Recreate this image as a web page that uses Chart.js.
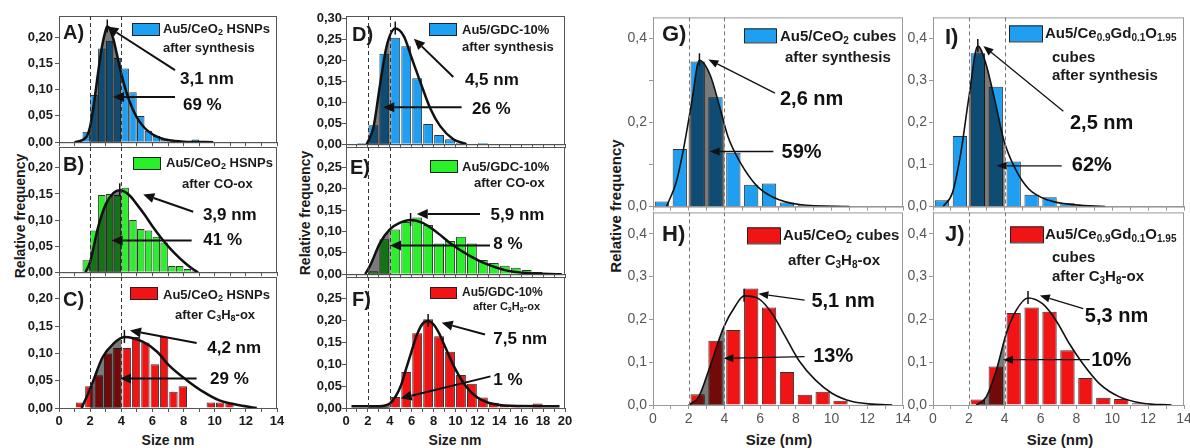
<!DOCTYPE html>
<html>
<head>
<meta charset="utf-8">
<script src="https://cdn.jsdelivr.net/npm/chart.js@4.4.1/dist/chart.umd.min.js"></script>
<style>
  body { margin: 0; width: 1190px; height: 448px; background: #fff; position: relative; overflow: hidden;
         font-family: "Liberation Sans", Arial, sans-serif; }
  canvas { position: absolute; }
  .ttl { position: absolute; font-weight: bold; color: #1a1a1a; white-space: nowrap; }
  .rot { transform: translate(-50%, -50%) rotate(-90deg); }
  .hor { transform: translate(-50%, -50%); }
</style>
</head>
<body>
<div class="ttl rot" style="left:20px;top:216px;font-size:14px">Relative frequency</div>
<div class="ttl rot" style="left:305px;top:213px;font-size:14px">Relative frequency</div>
<div class="ttl rot" style="left:615px;top:206px;font-size:15px">Relative frequency</div>
<div class="ttl hor" style="left:168px;top:440px;font-size:14px">Size nm</div>
<div class="ttl hor" style="left:455px;top:440px;font-size:14px">Size nm</div>
<div class="ttl hor" style="left:779px;top:439px;font-size:15px">Size (nm)</div>
<div class="ttl hor" style="left:1060px;top:439px;font-size:15px">Size (nm)</div>
<script>
// ---- size histograms (bin centre in nm, relative frequency) and log-normal fits ----
const aBins = [1.75, 2.25, 2.75, 3.25, 3.75, 4.25, 4.75, 5.25, 5.75, 6.25, 6.75, 7.25, 7.75, 8.25, 8.75];
const aFreq = [0.02, 0.09, 0.178, 0.193, 0.16, 0.14, 0.095, 0.05, 0.022, 0.012, 0.005, 0.002, 0, 0, 0.005];
const aFitX = [1.0, 1.5, 1.8, 2.0, 2.25, 2.5, 2.75, 3.0, 3.1, 3.25, 3.5, 3.75, 4.0, 4.5, 5.0, 5.5, 6.0, 6.5, 7.0, 8.0, 9.9];
const aFitY = [0, 0.004, 0.012, 0.03, 0.075, 0.13, 0.18, 0.213, 0.22, 0.216, 0.195, 0.163, 0.13, 0.08, 0.047, 0.027, 0.015, 0.008, 0.004, 0.001, 0];

const bBins = [1.75, 2.25, 2.75, 3.25, 3.75, 4.25, 4.75, 5.25, 5.75, 6.25, 6.75, 7.25, 7.75, 8.25, 8.75];
const bFreq = [0.023, 0.08, 0.148, 0.15, 0.148, 0.162, 0.10, 0.083, 0.08, 0.068, 0.057, 0.012, 0.012, 0.006, 0.003];
const bFitX = [1.7, 2.0, 2.2, 2.5, 3.0, 3.5, 3.9, 4.5, 5.0, 5.5, 6.0, 6.5, 7.0, 7.5, 8.0, 8.5, 8.9];
const bFitY = [0, 0.02, 0.045, 0.085, 0.13, 0.152, 0.157, 0.148, 0.13, 0.11, 0.088, 0.068, 0.05, 0.034, 0.02, 0.008, 0];

const cBins = [1.35, 1.95, 2.55, 3.15, 3.75, 4.35, 4.95, 5.55, 6.15, 6.75, 7.35, 7.95, 8.55, 9.15, 9.75, 10.35, 10.95];
const cFreq = [0.01, 0.04, 0.06, 0.10, 0.11, 0.11, 0.13, 0.12, 0.08, 0.13, 0.03, 0.04, 0, 0, 0.01, 0.01, 0.01];
const cFitX = [1.45, 2.0, 2.2, 2.8, 3.5, 4.2, 5.4, 6.3, 7.1, 8.2, 9.3, 10.3, 11.6, 12.7];
const cFitY = [0, 0.035, 0.05, 0.093, 0.118, 0.13, 0.121, 0.103, 0.077, 0.051, 0.029, 0.014, 0.005, 0];

const dBins = [1.5, 2.5, 3.5, 4.5, 5.5, 6.5, 7.5, 8.5, 9.5, 10.5, 11.5, 12.5];
const dFreq = [0.003, 0.045, 0.215, 0.253, 0.233, 0.157, 0.048, 0.022, 0.012, 0.003, 0, 0.003];
const dFitX = [1.9, 2.5, 3.1, 3.7, 4.5, 5.3, 6.0, 6.8, 7.7, 8.6, 9.8, 11.0];
const dFitY = [0, 0.039, 0.14, 0.232, 0.275, 0.256, 0.205, 0.147, 0.085, 0.043, 0.012, 0];

const eBins = [2.5, 3.5, 4.5, 5.5, 6.5, 7.5, 8.5, 9.5, 10.5, 11.5, 12.5, 13.5, 14.5, 15.5, 16.5, 17.5, 18.5];
const eFreq = [0.007, 0.082, 0.105, 0.122, 0.133, 0.115, 0.072, 0.078, 0.088, 0.072, 0.033, 0.026, 0.02, 0.015, 0.01, 0.005, 0.003];
const eFitX = [1.76, 2.2, 3.1, 4.0, 4.9, 5.9, 7.0, 8.2, 9.7, 11.3, 12.8, 14.6, 16.4, 19.7];
const eFitY = [0, 0.02, 0.073, 0.105, 0.12, 0.127, 0.12, 0.10, 0.069, 0.043, 0.024, 0.009, 0.003, 0];

const fBins = [3.5, 4.5, 5.5, 6.5, 7.5, 8.5, 9.5, 10.5, 11.5, 12.5, 13.5, 14.5, 15.5, 16.5, 17.5];
const fFreq = [0.003, 0.025, 0.082, 0.17, 0.202, 0.163, 0.128, 0.075, 0.055, 0.024, 0.012, 0.005, 0.003, 0, 0.01];
const fFitX = [0.5, 3.0, 4.0, 4.5, 5.0, 5.5, 6.0, 6.5, 7.0, 7.5, 8.0, 8.5, 9.0, 10.0, 11.0, 12.0, 13.0, 14.0, 15.0, 19.5];
const fFitY = [0.004, 0.004, 0.01, 0.025, 0.05, 0.09, 0.13, 0.168, 0.192, 0.198, 0.19, 0.17, 0.142, 0.088, 0.048, 0.024, 0.012, 0.007, 0.005, 0.004];

const gBins = [0.5, 1.5, 2.5, 3.5, 4.5, 5.5, 6.5, 7.5, 8.5, 9.5, 10.5];
const gFreq = [0.012, 0.137, 0.345, 0.26, 0.128, 0.052, 0.055, 0.01, 0.004, 0.002, 0.002];
const gFitX = [0.75, 1.3, 1.7, 2.15, 2.6, 3.2, 3.75, 4.2, 4.9, 5.8, 6.7, 8.2, 11.0];
const gFitY = [0, 0.058, 0.135, 0.243, 0.348, 0.313, 0.235, 0.166, 0.104, 0.05, 0.023, 0.005, 0];

const hBins = [2.5, 3.5, 4.5, 5.5, 6.5, 7.5, 8.5, 9.5, 10.5, 11.5];
const hFreq = [0.025, 0.15, 0.175, 0.272, 0.228, 0.077, 0.024, 0.031, 0.01, 0.002];
const hFitX = [2.0, 2.56, 3.12, 3.96, 4.62, 5.1, 5.93, 6.68, 7.42, 8.17, 9.1, 10.04, 11.16, 12.3, 13.4];
const hFitY = [0, 0.019, 0.081, 0.182, 0.232, 0.255, 0.248, 0.213, 0.159, 0.104, 0.058, 0.027, 0.008, 0.002, 0];

const iBins = [0.5, 1.5, 2.5, 3.5, 4.5, 5.5, 6.5, 7.5, 8.5];
const iFreq = [0.015, 0.168, 0.365, 0.285, 0.107, 0.028, 0.022, 0.008, 0.003];
const iFitX = [0.56, 1.1, 1.55, 2.0, 2.5, 2.93, 3.5, 3.95, 4.6, 5.34, 6.46, 7.94, 9.6];
const iFitY = [0, 0.035, 0.127, 0.259, 0.382, 0.343, 0.243, 0.158, 0.089, 0.042, 0.015, 0.004, 0];

const jBins = [2.5, 3.5, 4.5, 5.5, 6.5, 7.5, 8.5, 9.5, 10.5, 11.5];
const jFreq = [0.013, 0.09, 0.215, 0.228, 0.218, 0.128, 0.063, 0.017, 0.014, 0.004];
const jFitX = [2.42, 2.97, 3.53, 4.08, 4.64, 5.3, 6.12, 6.87, 7.61, 8.35, 9.28, 10.4, 11.7, 13.3];
const jFitY = [0, 0.019, 0.081, 0.166, 0.221, 0.25, 0.236, 0.197, 0.143, 0.097, 0.05, 0.019, 0.004, 0];

// modal size (nm) and fraction of particles between 2 and 4 nm (%)
const peakSizes = [3.1, 3.9, 4.2, 4.5, 5.9, 7.5, 2.6, 5.1, 2.5, 5.3];
const fractions = [69, 41, 29, 26, 8, 1, 59, 13, 62, 10];
const sampleNames = ['Au5/CeO{2} HSNPs', 'Au5/CeO{2} HSNPs', 'Au5/CeO{2} HSNPs',
                     'Au5/GDC-10%', 'Au5/GDC-10%', 'Au5/GDC-10%',
                     'Au5/CeO{2} cubes', 'Au5/CeO{2} cubes',
                     'Au5/Ce{0.9}Gd{0.1}O{1.95}', 'Au5/Ce{0.9}Gd{0.1}O{1.95}'];
const treatments = ['after synthesis', 'after CO-ox', 'after C{3}H{8}-ox',
                    'after synthesis', 'after CO-ox', 'after C{3}H{8}-ox',
                    'after synthesis', 'after C{3}H{8}-ox',
                    'after synthesis', 'after C{3}H{8}-ox'];

const BLUE = '#1e9ff2', GREEN = '#2af02a', RED = '#f01414';
const FONT = '"Liberation Sans", Arial, sans-serif';

const groups = {
  1: { xMax: 14, tick: 13, tickBold: 'bold', tickColor: '#1a1a1a', frame: '#555', dash: '#333', note: 17,
       curveW: 2.5, arrowW: 2, head: [11, 5], letter: 20, pctSep: ' ', yDigits: 2, legend: 13, yPad: 2 },
  2: { xMax: 20, tick: 13, tickBold: 'bold', tickColor: '#1a1a1a', frame: '#555', dash: '#333', note: 17,
       curveW: 2.5, arrowW: 2, head: [11, 5], letter: 20, pctSep: ' ', yDigits: 2, legend: 13, yPad: 0 },
  3: { xMax: 14, tick: 14, tickBold: 'normal', tickColor: '#555', frame: '#999', dash: '#777', note: 20,
       curveW: 1.6, arrowW: 1.3, head: [10, 4], letter: 22, pctSep: '', yDigits: 1, legend: 15, yPad: 2 }
};

// panel layout: plot rectangle, axes, annotation anchors (data units), legend offsets (px)
const panels = [
  { key: 'A', g: 1, bins: aBins, freq: aFreq, fitX: aFitX, fitY: aFitY, color: BLUE, rect: [59, 16, 218, 131],
    yMax: 0.24, yStep: 0.05, xLabels: false, barPct: 0.96, letterAt: [4, 17],
    nm: { text: [7.77, 0.119], tail: [7.45, 0.137], head: null },
    pct: { text: [7.96, 0.071], tail: [7.45, 0.086], head: [3.47, 0.086] },
    legend: { box: [73, 7, 27, 12], lines: [[104, 13], [104, 32]] } },
  { key: 'B', g: 1, bins: bBins, freq: bFreq, fitX: bFitX, fitY: bFitY, color: GREEN, rect: [59, 147, 218, 130],
    yMax: 0.24, yStep: 0.05, xLabels: false, barPct: 0.96, letterAt: [4, 18],
    nm: { text: [9.24, 0.110], tail: [8.62, 0.116], head: [5.41, 0.149] },
    pct: { text: [9.27, 0.062], tail: [8.52, 0.061], head: [3.38, 0.061] },
    legend: { box: [74, 10, 27, 12], lines: [[107, 16], [123, 37]] } },
  { key: 'C', g: 1, bins: cBins, freq: cFreq, fitX: cFitX, fitY: cFitY, color: RED, rect: [59, 277, 218, 131],
    yMax: 0.24, yStep: 0.05, xLabels: true, barPct: 0.9, letterAt: [4, 23],
    nm: { text: [9.52, 0.109], tail: [8.84, 0.119], head: [4.56, 0.142] },
    pct: { text: [9.7, 0.053], tail: [8.84, 0.054], head: [3.92, 0.054] },
    legend: { box: [71, 10, 27, 12], lines: [[104, 18], [116, 38]] } },
  { key: 'D', g: 2, bins: dBins, freq: dFreq, fitX: dFitX, fitY: dFitY, color: BLUE, rect: [346, 16, 219, 131],
    yMax: 0.305, yStep: 0.05, xLabels: false, barPct: 0.9, letterAt: [6, 19],
    nm: { text: [10.86, 0.152], tail: [9.8, 0.16], head: [6.2, 0.251] },
    pct: { text: [11.5, 0.082], tail: [10.56, 0.088], head: [3.4, 0.088] },
    legend: { box: [83, 7, 27, 12], lines: [[116, 14], [116, 31]] } },
  { key: 'E', g: 2, bins: eBins, freq: eFreq, fitX: eFitX, fitY: eFitY, color: GREEN, rect: [346, 147, 219, 130],
    yMax: 0.298, yStep: 0.05, xLabels: false, barPct: 0.9, letterAt: [4, 21],
    nm: { text: [13.2, 0.138], tail: [12.24, 0.141], head: [6.46, 0.141] },
    pct: { text: [13.45, 0.069], tail: [13.15, 0.067], head: [4.02, 0.067] },
    legend: { box: [84, 13, 27, 12], lines: [[116, 20], [128, 36]] } },
  { key: 'F', g: 2, bins: fBins, freq: fFreq, fitX: fFitX, fitY: fFitY, color: RED, rect: [346, 277, 219, 131],
    yMax: 0.298, yStep: 0.05, xLabels: true, barPct: 0.9, letterAt: [6, 23],
    nm: { text: [13.45, 0.156], tail: [12.69, 0.167], head: [8.74, 0.194] },
    pct: { text: [13.45, 0.064], tail: [13.2, 0.072], head: [5.0, 0.022] },
    legend: { box: [84, 10, 26, 11], lines: [[116, 16], [127, 30]], size: 12 } },
  { key: 'G', g: 3, bins: gBins, freq: gFreq, fitX: gFitX, fitY: gFitY, color: BLUE, rect: [653, 17, 250, 195],
    yMax: 0.45, yStep: 0.1, yEven: true, xLabels: false, barPct: 0.8, letterAt: [9, 18],
    nm: { text: [7.11, 0.254], tail: [6.83, 0.270], head: [3.1, 0.35] },
    pct: { text: [7.2, 0.128], tail: [6.74, 0.131], head: [3.17, 0.131] },
    legend: { box: [91, 11, 32, 14], lines: [[127, 19], [132, 40]] } },
  { key: 'H', g: 3, bins: hBins, freq: hFreq, fitX: hFitX, fitY: hFitY, color: RED, rect: [653, 212, 250, 193],
    yMax: 0.45, yStep: 0.1, xLabels: true, barPct: 0.8, letterAt: [9, 23],
    nm: { text: [8.87, 0.241], tail: [8.49, 0.245], head: [5.9, 0.26] },
    pct: { text: [8.97, 0.113], tail: [8.49, 0.113], head: [3.94, 0.109] },
    legend: { box: [94, 15, 33, 16], lines: [[130, 23], [135, 48]] } },
  { key: 'I', g: 3, bins: iBins, freq: iFreq, fitX: iFitX, fitY: iFitY, color: BLUE, rect: [933, 17, 251, 195],
    yMax: 0.45, yStep: 0.1, xLabels: false, barPct: 0.8, letterAt: [12, 21],
    nm: { text: [7.64, 0.197], tail: [7.27, 0.227], head: [2.81, 0.382] },
    pct: { text: [7.74, 0.097], tail: [7.18, 0.097], head: [3.55, 0.097] },
    legend: { box: [76, 8, 33, 16], lines: [[112, 16], [119, 40], [119, 58]], split: true } },
  { key: 'J', g: 3, bins: jBins, freq: jFreq, fitX: jFitX, fitY: jFitY, color: RED, rect: [933, 212, 251, 193],
    yMax: 0.45, yStep: 0.1, xLabels: true, barPct: 0.8, letterAt: [12, 23],
    nm: { text: [8.47, 0.206], tail: [8.38, 0.225], head: [5.96, 0.256] },
    pct: { text: [8.83, 0.105], tail: [8.74, 0.106], head: [3.9, 0.106] },
    legend: { box: [77, 14, 33, 16], lines: [[112, 22], [119, 45], [119, 64]], split: true } }
];

// text with {subscript} parts
function rich(ctx, s, x, y, size) {
  for (const part of s.split(/(\{[^}]*\})/)) {
    if (!part) continue;
    const sub = part[0] === '{';
    const t = sub ? part.slice(1, -1) : part;
    ctx.font = `bold ${sub ? Math.round(size * 0.68) : size}px ${FONT}`;
    ctx.fillText(t, x, sub ? y + size * 0.3 : y);
    x += ctx.measureText(t).width;
  }
}

function arrow(ctx, x1, y1, x2, y2, lw, hl, hw) {
  const a = Math.atan2(y2 - y1, x2 - x1);
  const bx = x2 - hl * Math.cos(a), by = y2 - hl * Math.sin(a);
  ctx.lineWidth = lw;
  ctx.beginPath(); ctx.moveTo(x1, y1); ctx.lineTo(bx, by); ctx.stroke();
  ctx.beginPath(); ctx.moveTo(x2, y2);
  ctx.lineTo(bx + hw * Math.sin(a), by - hw * Math.cos(a));
  ctx.lineTo(bx - hw * Math.sin(a), by + hw * Math.cos(a));
  ctx.closePath(); ctx.fill();
}

function decor(p, idx) {
  const g = groups[p.g];
  return {
    id: 'decor',
    // the filler paints dataset 1 before its own hook, so the 2-4 nm clip is opened
    // right after the bars and closed after the shaded dataset
    afterDatasetDraw(chart, args) {
      const { ctx, chartArea, scales } = chart;
      if (args.index === 0) {
        const x0 = scales.x.getPixelForValue(2), x1 = scales.x.getPixelForValue(4);
        ctx.save(); ctx.beginPath(); ctx.rect(x0, chartArea.top, x1 - x0, chartArea.height); ctx.clip();
      } else if (args.index === 1) {
        ctx.restore();
      }
    },
    afterDraw(chart) {
      const { ctx, chartArea: ca, scales: { x, y } } = chart;
      const px = v => x.getPixelForValue(v), py = v => y.getPixelForValue(v);
      ctx.save();
      // frame
      ctx.strokeStyle = g.frame; ctx.lineWidth = 1;
      ctx.strokeRect(ca.left + 0.5, ca.top + 0.5, ca.width - 1, ca.height);
      // 2 nm and 4 nm limits
      ctx.strokeStyle = g.dash; ctx.setLineDash([4, 3]);
      for (const v of [2, 4]) {
        ctx.beginPath(); ctx.moveTo(Math.round(px(v)) + 0.5, ca.top); ctx.lineTo(Math.round(px(v)) + 0.5, ca.bottom); ctx.stroke();
      }
      ctx.setLineDash([]);
      // peak marker
      const peakY = Math.max(...p.fitY);
      ctx.strokeStyle = '#111'; ctx.lineWidth = 1.5;
      ctx.beginPath(); ctx.moveTo(px(peakSizes[idx]), py(peakY) - 7); ctx.lineTo(px(peakSizes[idx]), py(peakY) + 6); ctx.stroke();
      // annotations
      ctx.fillStyle = '#111'; ctx.strokeStyle = '#111';
      const nmHead = p.nm.head || [peakSizes[idx], peakY];
      arrow(ctx, px(p.nm.tail[0]), py(p.nm.tail[1]), px(nmHead[0]), py(nmHead[1]), g.arrowW, g.head[0], g.head[1]);
      arrow(ctx, px(p.pct.tail[0]), py(p.pct.tail[1]), px(p.pct.head[0]), py(p.pct.head[1]), g.arrowW, g.head[0], g.head[1]);
      ctx.textBaseline = 'middle'; ctx.textAlign = 'left';
      ctx.font = `bold ${g.note}px ${FONT}`;
      ctx.fillText(peakSizes[idx].toFixed(1).replace('.', ',') + ' nm', px(p.nm.text[0]), py(p.nm.text[1]));
      ctx.fillText(fractions[idx] + g.pctSep + '%', px(p.pct.text[0]), py(p.pct.text[1]));
      // legend
      const lg = p.legend, size = lg.size || g.legend;
      ctx.fillStyle = p.color; ctx.strokeStyle = '#222'; ctx.lineWidth = 1;
      ctx.fillRect(ca.left + lg.box[0], ca.top + lg.box[1], lg.box[2], lg.box[3]);
      ctx.strokeRect(ca.left + lg.box[0] + 0.5, ca.top + lg.box[1] + 0.5, lg.box[2], lg.box[3]);
      ctx.fillStyle = '#1a1a1a';
      const lines = lg.split ? [sampleNames[idx], 'cubes', treatments[idx]] : [sampleNames[idx], treatments[idx]];
      lines.forEach((t, k) => {
        const s = (k > 0 && p.key === 'F') ? size - 1 : size;
        rich(ctx, t, ca.left + lg.lines[k][0], ca.top + lg.lines[k][1], s);
      });
      // panel letter
      ctx.font = `bold ${g.letter}px ${FONT}`;
      ctx.fillText(p.key + ')', ca.left + p.letterAt[0], ca.top + p.letterAt[1]);
      ctx.restore();
    }
  };
}

Chart.defaults.font.family = FONT;

panels.forEach((p, idx) => {
  const g = groups[p.g];
  const [L, T, W, H] = p.rect;
  const axisW = 40, padT = 10, padR = 14, bottomH = p.xLabels ? 24 : 5;
  const cv = document.createElement('canvas');
  cv.width = axisW + W + padR; cv.height = padT + H + bottomH;
  cv.style.left = (L - axisW) + 'px'; cv.style.top = (T - padT) + 'px';
  document.body.appendChild(cv);

  const bars = p.bins.map((b, k) => ({ x: b, y: p.freq[k] }));
  const fit = p.fitX.map((v, k) => ({ x: v, y: p.fitY[k] }));
  const tickFont = { size: g.tick, weight: g.tickBold };

  new Chart(cv, {
    type: 'bar',
    data: {
      datasets: [
        { type: 'bar', data: bars, backgroundColor: p.color, borderColor: '#333', borderWidth: 1,
          barPercentage: p.barPct, categoryPercentage: 1, order: 3 },
        { type: 'line', data: fit, fill: 'origin', backgroundColor: 'rgba(0,0,0,0.52)', borderColor: 'rgba(0,0,0,0)',
          borderWidth: 0, pointRadius: 0, cubicInterpolationMode: 'monotone', order: 2 },
        { type: 'line', data: fit, fill: false, borderColor: '#111', borderWidth: g.curveW,
          pointRadius: 0, cubicInterpolationMode: 'monotone', order: 1 }
      ]
    },
    options: {
      responsive: false, animation: false, devicePixelRatio: 1,
      layout: { padding: { top: padT, right: padR, left: 0, bottom: 0 } },
      plugins: { legend: { display: false }, tooltip: { enabled: false } },
      scales: {
        x: {
          type: 'linear', min: 0, max: g.xMax, offset: false,
          grid: { drawOnChartArea: false, drawTicks: true, tickLength: 4, color: g.frame, offset: false },
          border: { display: true, color: g.frame },
          ticks: { stepSize: 1, autoSkip: false, includeBounds: false, maxRotation: 0, display: p.xLabels,
                   padding: 2, color: g.tickColor, font: tickFont,
                   callback: v => (v % 2 === 0 ? String(v) : '') },
          afterFit: s => { s.height = bottomH; }
        },
        y: {
          min: 0, max: p.yMax,
          grid: { drawOnChartArea: false, drawTicks: true, tickLength: 4, color: g.frame },
          border: { display: true, color: g.frame },
          ticks: { stepSize: p.yStep, includeBounds: false, padding: g.yPad, color: g.tickColor, font: tickFont,
                   callback: v => (p.yEven && Math.round(v * 10) % 2 !== 0) ? '' : v.toFixed(g.yDigits).replace('.', ',') },
          afterFit: s => { s.width = axisW; }
        }
      }
    },
    plugins: [decor(p, idx)]
  });
});
</script>
</body>
</html>
